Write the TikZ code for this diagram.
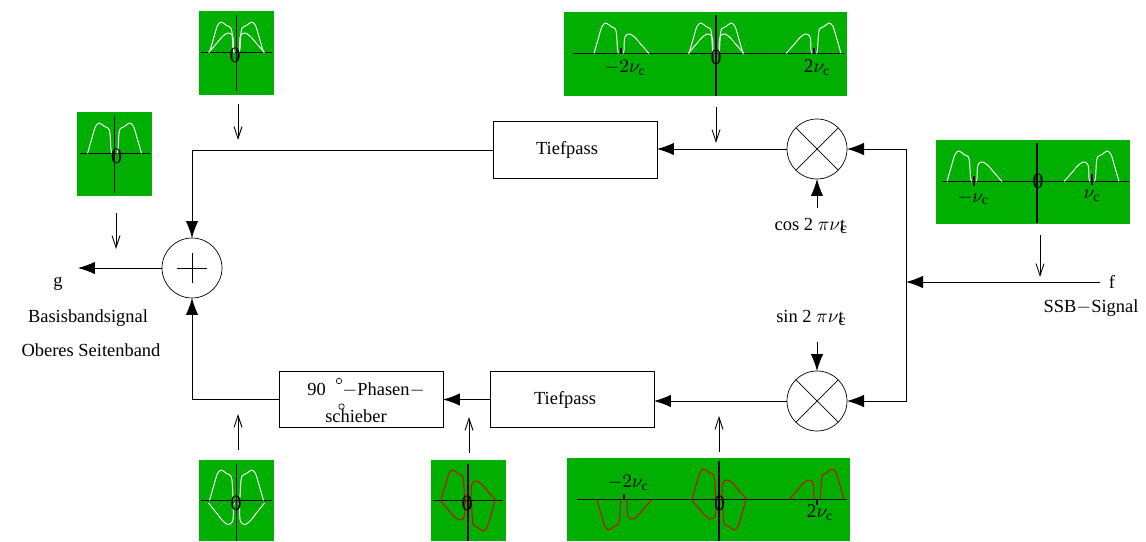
\documentclass[tikz,border=0pt]{standalone}
\usepackage{fontspec}
\setmainfont{Liberation Serif}
\usetikzlibrary{arrows.meta}
\definecolor{plotgreen}{HTML}{00AF00}
\newcommand{\nuc}{$\nu_{\mathrm{c}}$}
\newcommand{\nuct}{$\nu$\rlap{\raisebox{-.45ex}{\small c}}t}
\tikzset{
  usb/.pic={\draw[lobe] plot[smooth,tension=.5] coordinates
    {(2.5,0) (3.5,-4) (4.5,-20) (6,-25) (10,-27) (15,-30.5) (19,-27) (23,-14) (27,0)};},
  lsb/.pic={\draw[lobe] plot[smooth,tension=.5] coordinates
    {(2,0) (3,-3) (3.5,-15) (6,-19) (9,-19.5) (14,-16) (20,-9) (28,0)};}
}
\begin{document}
\begin{tikzpicture}[x=0.02cm,y=-0.02cm,font=\fontsize{10.5}{12}\selectfont,
      lobe/.style={line width=.55pt,line join=round},
      plotbox/.style={fill=plotgreen,inner sep=0pt,outer sep=0pt},
      axis/.style={black,line width=.6pt},
      block/.style={rectangle,draw,inner sep=0pt,outer sep=0pt,minimum width=3.28cm,minimum height=1.13cm},
      mixer/.style={circle,draw,inner sep=0pt,outer sep=0pt,minimum size=1.2cm},
      degmark/.style={circle,draw,inner sep=0pt,minimum size=.11cm,line width=.35pt},
      flow/.style={-{Latex[length=.34cm,width=.25cm]},line width=.5pt},
      probe/.style={-{Straight Barb[length=.24cm,width=.16cm]},line width=.5pt},
      zerolab/.style={inner sep=0pt,font=\fontsize{12.5}{12}\selectfont},
      freqlab/.style={inner sep=0pt,font=\fontsize{11}{12}\selectfont},
      lab/.style={inner sep=0pt}]
  \useasboundingbox (0,0) rectangle (1146,541);
  % plots
  \foreach \pname/\px/\py/\pw/\ph/\ay/\vx/\va/\vb/\ha/\hb in {
      a/114.5/154/75/84/153.5/114.5/116/192.5/80/149.5,
      b/236.5/53/75/84/52.5/236.5/15/91/201/272,
      c/705.5/54/283/84/53.5/716/15/96/573/844,
      d/1033/182/194/84/181.5/1037/143/223/942/1129,
      e/236.5/500.5/75/81/500.5/236.5/464/541/201/272,
      f/468.5/500.5/75/81/500.5/468/464/541/433/503,
      g/708.5/499.5/283/83/499.5/719/461/541/577/847}{
    \node[plotbox,minimum width=\pw*.02cm,minimum height=\ph*.02cm] (plot\pname) at (\px,\py) {};
    \draw[axis] (\ha,\ay) -- (\hb,\ay);
    \draw[axis] (\vx,\va) -- (\vx,\vb);
  }
  % ticks
  \foreach \tx/\ta/\tb in {621/48/53.5,814/48/53.5,974/176/186,1092/174/185,624/494/500,817/499/505}
    \draw[axis] (\tx,\ta) -- (\tx,\tb);
  % white curves
  \begin{scope}[white]
    \foreach \cx/\cy/\sx in {114.5/153.5/1,114.5/153.5/-1,236.5/52.5/1,236.5/52.5/-1,
        621/53.5/-1,716/53.5/1,716/53.5/-1,814/53.5/1,974/181.5/-1,1092/181.5/1,
        236.5/500.5/1,236.5/500.5/-1}
      \pic[xscale=\sx] at (\cx,\cy) {usb};
    \foreach \cx/\cy/\sx in {236.5/52.5/1,236.5/52.5/-1,621/53.5/1,716/53.5/1,716/53.5/-1,
        814/53.5/-1,974/181.5/1,1092/181.5/-1}
      \pic[xscale=\sx] at (\cx,\cy) {lsb};
    \foreach \cx/\cy/\sx in {236.5/503/1,236.5/503/-1}
      \pic[xscale=\sx,yscale=-1.1] at (\cx,\cy) {lsb};
  \end{scope}
  % red curves
  \begin{scope}[red!85!black]
    \foreach \cx/\cy/\sx/\sy in {468/500.5/-1/1,468/500.5/1/-1,
        624/499.5/-1/-1,719/499.5/-1/1,719/499.5/1/-1,817/499.5/1/1}
      \pic[xscale=\sx,yscale=\sy] at (\cx,\cy) {usb};
    \foreach \cx/\cy/\sx/\sy in {468/500.5/1/1,468/500.5/-1/-1,
        624/499.5/1/-1,719/499.5/1/1,719/499.5/-1/-1,817/499.5/-1/1}
      \pic[xscale=\sx,yscale=\sy] at (\cx,\cy) {lsb};
  \end{scope}
  % plot labels
  \foreach \zname/\zx/\zy in {a/116.5/156,b/235/55,c/716/57,d/1038/181,e/236/503,f/467/503,g/719.5/503}
    \node[zerolab] (zero\zname) at (\zx,\zy) {0};
  \node[freqlab] (lm2a) at (625,68) {$-2$\nuc};
  \node[freqlab] (lp2a) at (817,68) {2\nuc};
  \node[freqlab] (lm1) at (973,198) {$-$\nuc};
  \node[freqlab] (lp1) at (1092,196) {\nuc};
  \node[freqlab] (lm2b) at (628,483) {$-2$\nuc};
  \node[freqlab] (lp2b) at (820,513) {2\nuc};
  % blocks
  \node[block] (lpa) at (575,150) {};
  \node[lab] (lpatext) at (567,150) {Tiefpass};
  \node[block] (lpb) at (572,399.5) {};
  \node[lab] (lpbtext) at (565,400) {Tiefpass};
  \node[block] (shift) at (361,399.5) {};
  \node[lab] (shifta) at (366,390) {90\hspace{.9em}$-$Phasen$-$};
  \node[lab] (shiftb) at (356,416) {schieber};
  \node[degmark] (dega) at (339,381) {};
  \node[degmark] (degb) at (341.5,406.5) {};
  \node[mixer] (add) at (192,268) {};
  \node[mixer] (mixa) at (817,149) {};
  \node[mixer] (mixb) at (817,401) {};
  \draw ([xshift=-.3cm]add.center) -- ([xshift=.3cm]add.center);
  \draw ([yshift=-.3cm]add.center) -- ([yshift=.3cm]add.center);
  \foreach \m in {mixa,mixb}{
    \draw (\m.north west) -- (\m.south east);
    \draw (\m.north east) -- (\m.south west);
  }
  % signal labels
  \node[lab] (sigf) at (1112,282) {f};
  \node[lab] (sigssb) at (1091,308) {SSB$-$Signal};
  \node[lab] (sigg) at (58,284) {g};
  \node[lab] (sigbb) at (88,318) {Basisbandsignal};
  \node[lab] (sigos) at (91,350) {Oberes Seitenband};
  \node[lab] (labcos) at (810,226) {cos 2 $\pi$\nuct};
  \node[lab] (labsin) at (810,318) {sin 2 $\pi$\nuct};
  % connectors
  \coordinate (fork) at (906,282);
  \coordinate (fin) at (1100,282);
  \coordinate (gout) at (78,268);
  \coordinate (cosin) at (817,208);
  \coordinate (sinin) at (817,342);
  \draw[flow] (fin) -- (fork);
  \draw[flow] (fork) |- (mixa.east);
  \draw[flow] (fork) |- (mixb.east);
  \draw[flow] (cosin) -- (mixa.south);
  \draw[flow] (sinin) -- (mixb.north);
  \draw[flow] (mixa.west) -- (mixa.west -| lpa.east);
  \draw[flow] (mixb.west) -- (mixb.west -| lpb.east);
  \draw[flow] (lpa.west) -| (add.north);
  \draw[flow] (lpb.west) -- (shift.east);
  \draw[flow] (shift.west) -| (add.south);
  \draw[flow] (add.west) -- (gout);
  % probes
  \foreach \n/\x/\a/\b in {a/116/213/249,b/238/104/140,c/716/107/143,d/1040/235/277,
      e/238/450/414,f/469/453/417,g/719/452/416}{
    \coordinate (pa\n) at (\x,\a);
    \coordinate (pb\n) at (\x,\b);
    \draw[probe] (pa\n) -- (pb\n);
  }
\end{tikzpicture}
\end{document}
